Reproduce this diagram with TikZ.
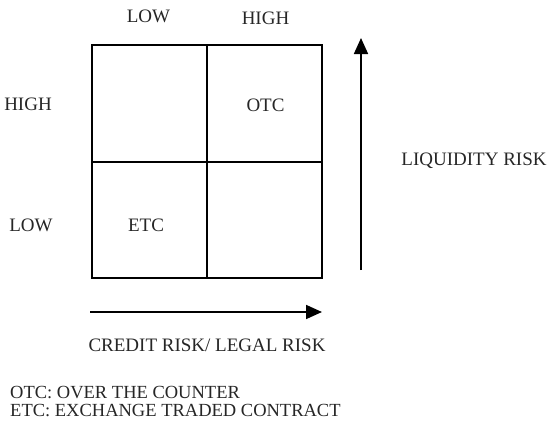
\documentclass[tikz,border=0pt]{standalone}
\usepackage{fontspec}
\setmainfont{Liberation Serif}
\usetikzlibrary{arrows.meta}
\begin{document}
\begin{tikzpicture}[x=1pt,y=-1pt,
  lbl/.style={font=\fontsize{19}{21}\selectfont, inner sep=0pt, text=black!85},
  legend/.style={lbl, anchor=west, font=\fontsize{18.5}{20}\selectfont},
  cell/.style={draw, line width=2pt},
  axis/.style={line width=1.8pt, -{Triangle[length=16pt,width=14pt]}}]
\useasboundingbox (0,0) rectangle (547,423);
% quadrant grid
\draw[cell] (92,45) rectangle (322,278);
\draw[line width=2pt] (207,45) -- (207,278);
\draw[line width=2pt] (92,162) -- (322,162);
% column / row headings
\node[lbl] (clow) at (148.5,16) {LOW};
\node[lbl] (chigh) at (265.5,18) {HIGH};
\node[lbl] (rhigh) at (28,104.5) {HIGH};
\node[lbl] (rlow) at (31,225) {LOW};
% cell contents
\node[lbl] (otc) at (265.5,105) {OTC};
\node[lbl] (etc) at (146,225) {ETC};
% axes
\coordinate (vb) at (361,270);
\coordinate (vt) at (361,38);
\draw[axis] (vb) -- (vt);
\coordinate (hl) at (90,312);
\coordinate (hr) at (322,312);
\draw[axis] (hl) -- (hr);
\node[lbl] (liq) at (474,161) {LIQUIDITY RISK};
\node[lbl] (cred) at (207,345) {CREDIT RISK/ LEGAL RISK};
% legend
\node[legend] (leg1) at (10,393) {OTC: OVER THE COUNTER};
\node[legend] (leg2) at (10,411) {ETC: EXCHANGE TRADED CONTRACT};
\end{tikzpicture}
\end{document}
